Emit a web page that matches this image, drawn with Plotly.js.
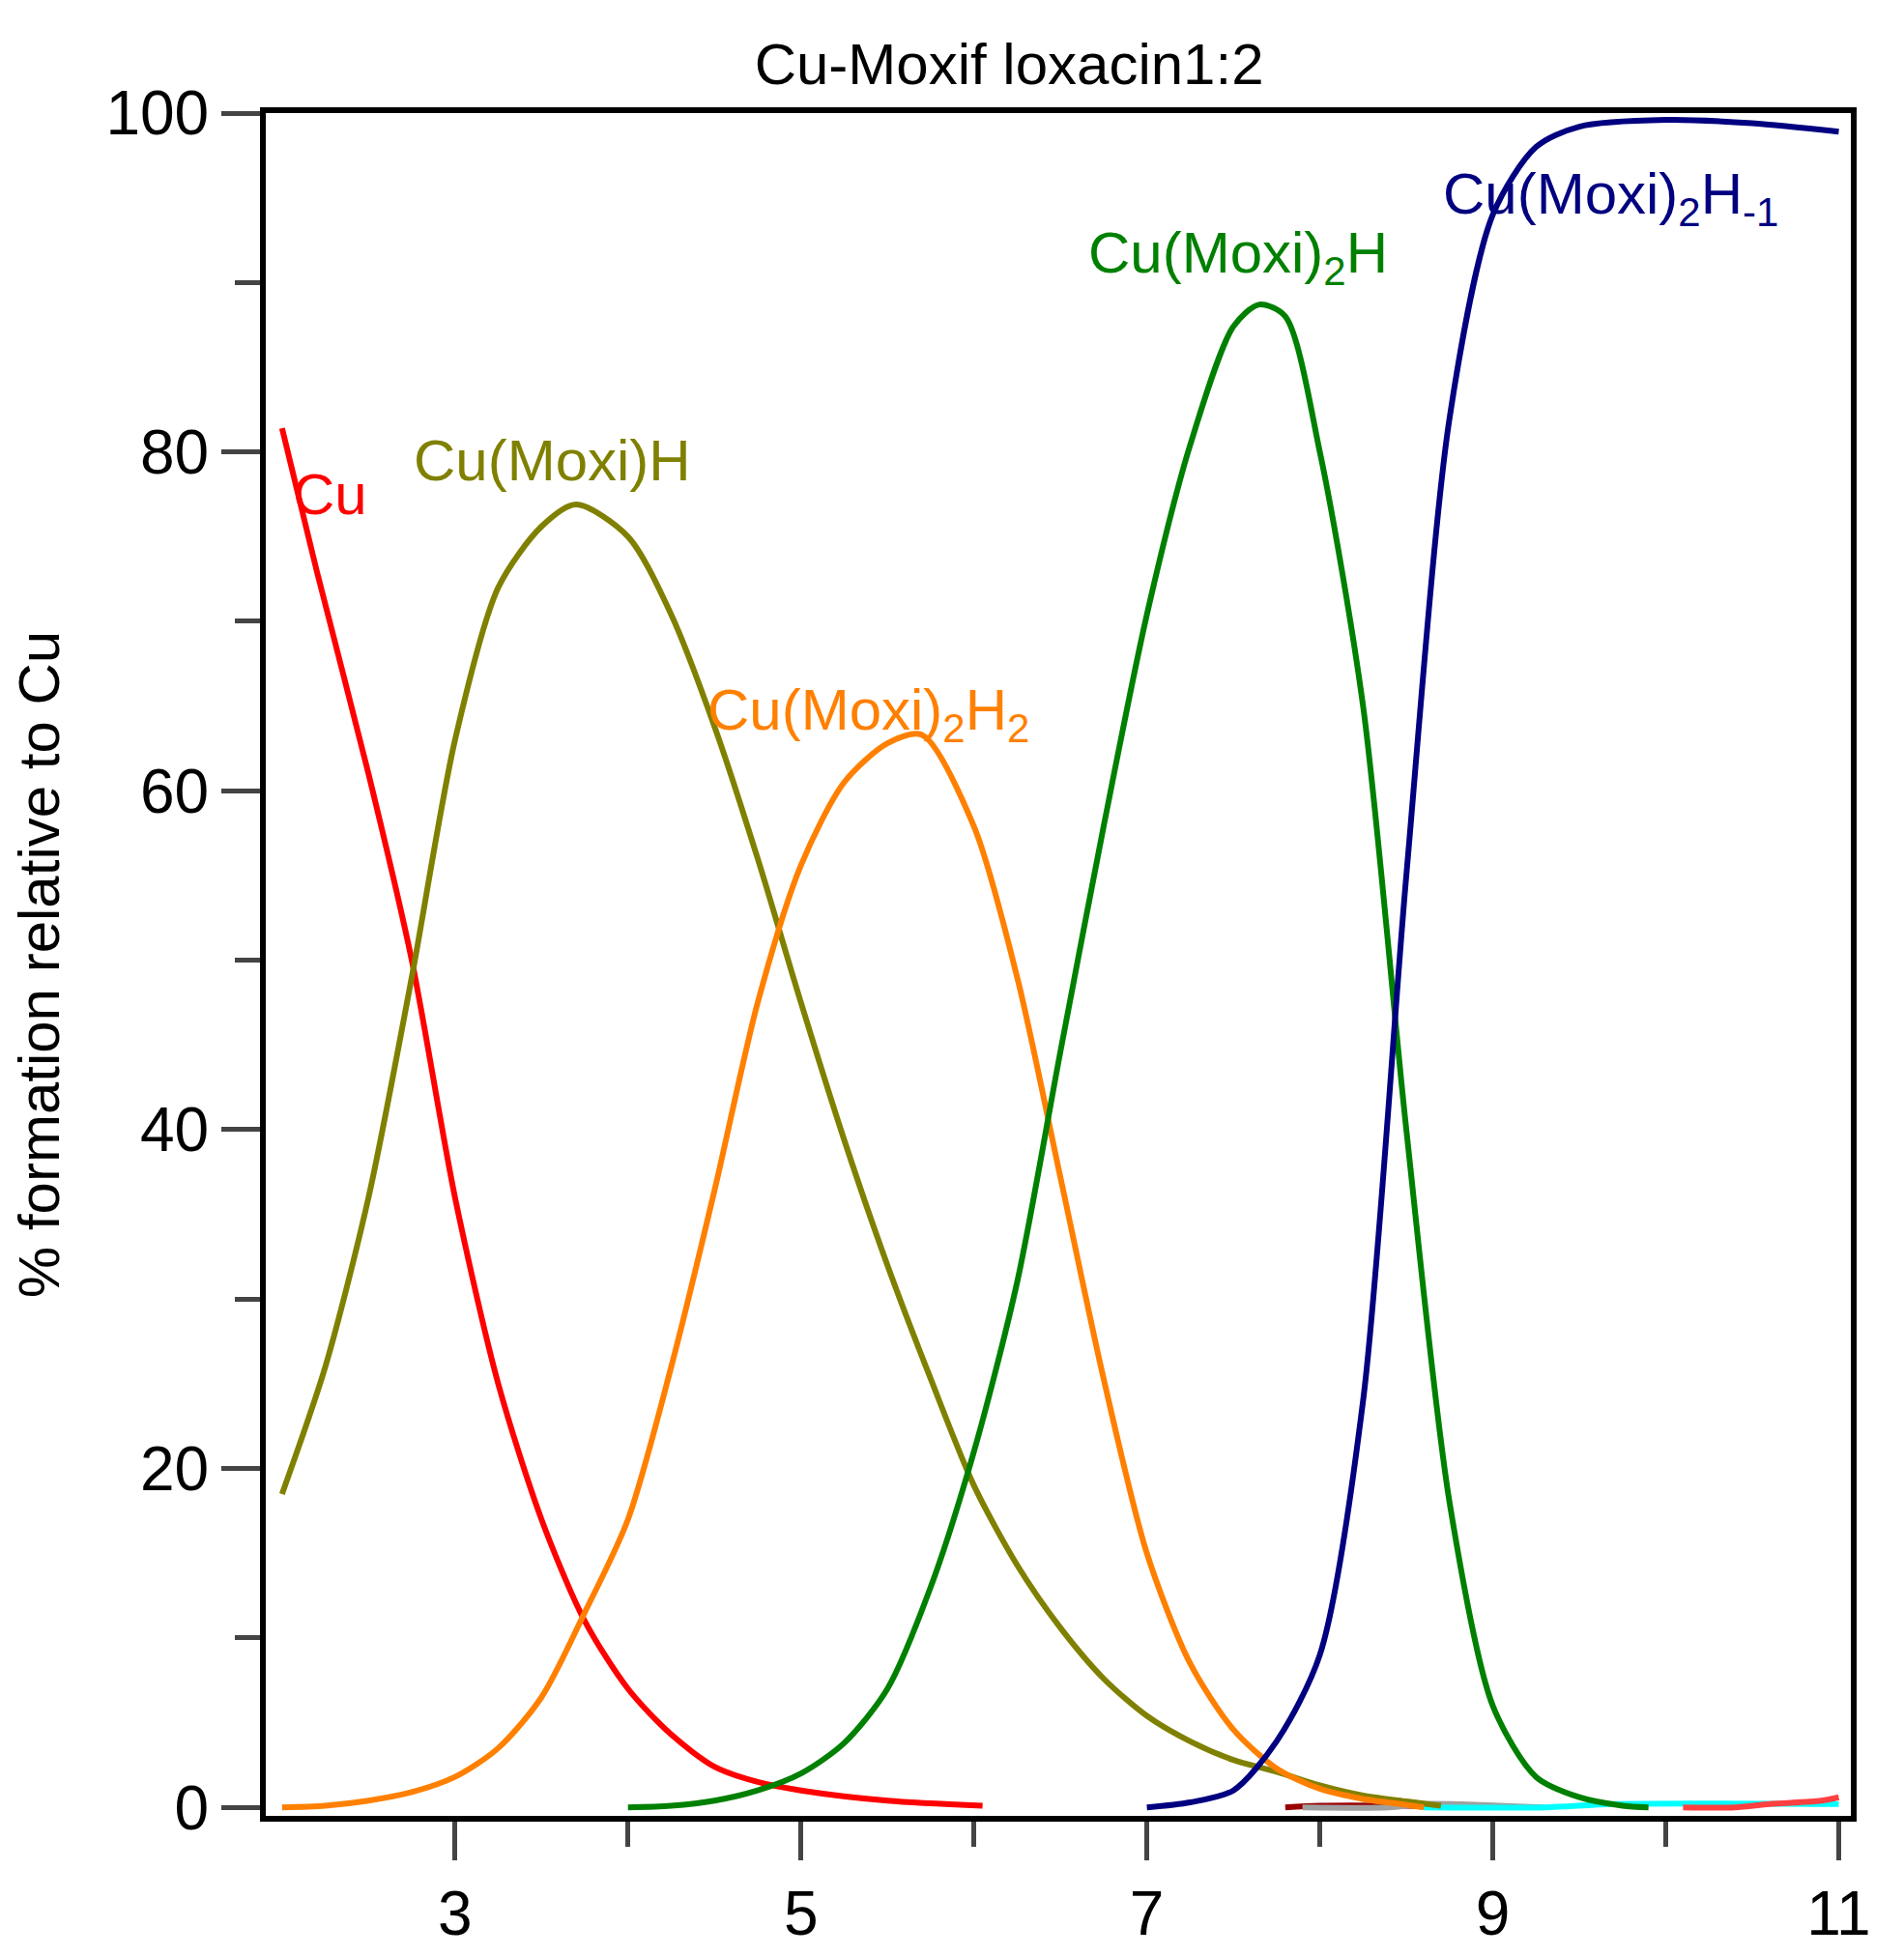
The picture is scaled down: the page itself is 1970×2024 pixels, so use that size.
<!DOCTYPE html>
<html><head><meta charset="utf-8">
<script src="https://cdn.plot.ly/plotly-3.0.1.min.js"></script>
<style>body{margin:0;background:#fff}</style></head>
<body><div id="plot" style="width:1970px;height:2024px"></div>
<script>
var cuX = [2.0, 2.2, 2.5, 2.75, 3.0, 3.25, 3.5, 3.75, 4.0, 4.25, 4.5, 4.75, 5.0, 5.5, 6.05];
var cuY = [81.4, 73, 61, 50, 36, 25, 17, 11, 7, 4.3, 2.4, 1.5, 1.0, 0.4, 0.1];

var mhX = [2.0, 2.25, 2.5, 2.75, 3.0, 3.25, 3.5, 3.7, 4.0, 4.25, 4.5, 4.75, 5.0, 5.25, 5.5, 5.75, 6.0, 6.25, 6.5, 6.75, 7.0, 7.25, 7.5, 7.75, 8.0, 8.25, 8.5, 8.7];
var mhY = [18.5, 26, 36, 49, 63, 72, 75.6, 76.9, 75, 70.4, 63.8, 56, 47.5, 39.4, 32, 25.3, 19, 14.3, 10.6, 7.6, 5.4, 3.9, 2.8, 2.1, 1.3, 0.7, 0.35, 0.1];

var m2h2X = [2.0, 2.25, 2.5, 2.75, 3.0, 3.25, 3.5, 3.75, 4.0, 4.25, 4.5, 4.75, 5.0, 5.25, 5.5, 5.7, 6.0, 6.25, 6.5, 6.75, 7.0, 7.25, 7.5, 7.75, 8.0, 8.25, 8.5, 8.6];
var m2h2Y = [0, 0.1, 0.4, 0.9, 1.8, 3.5, 6.5, 11.5, 17, 26, 36.4, 47.5, 55.6, 60.5, 62.8, 63.3, 57.9, 49, 37.2, 25.3, 15, 8.5, 4.6, 2.3, 1.1, 0.5, 0.15, 0];

var m2hX = [4.0, 4.25, 4.5, 4.75, 5.0, 5.25, 5.5, 5.75, 6.0, 6.25, 6.5, 6.75, 7.0, 7.25, 7.5, 7.65, 7.8, 8.0, 8.25, 8.5, 8.75, 9.0, 9.25, 9.5, 9.75, 9.9];
var m2hY = [0, 0.1, 0.4, 1.0, 2.0, 3.8, 7, 13, 21, 31, 44.6, 57.9, 70.4, 80.4, 87.4, 88.7, 88, 80, 65, 40, 18, 6, 1.8, 0.6, 0.1, 0];

var m2hm1X = [7.0, 7.25, 7.5, 7.75, 8.0, 8.25, 8.5, 8.75, 9.0, 9.25, 9.5, 10.0, 10.5, 11.0];
var m2hm1Y = [0, 0.3, 1.0, 3.9, 9, 24, 55, 82, 94, 98, 99.2, 99.6, 99.4, 98.9];

var dredX = [7.8, 8.0, 8.5, 8.8];
var dredY = [0, 0.1, 0.1, 0.05];
var grayX = [7.9, 8.4, 8.6, 9.3];
var grayY = [0, 0, 0.2, 0];
var cyanX = [8.6, 9.3, 9.7, 11.0];
var cyanY = [0, 0, 0.2, 0.2];
var lredX = [10.1, 10.4, 10.6, 10.9, 11.0];
var lredY = [0, 0, 0.2, 0.4, 0.6];

function tr(x, y, c) {
  return {x: x, y: y, type: 'scatter', mode: 'lines',
    line: {color: c, width: 6, shape: 'spline', smoothing: 0.8}, hoverinfo: 'none'};
}
var data = [
  tr(dredX, dredY, '#990000'),
  tr(grayX, grayY, '#a0a0a0'),
  tr(cyanX, cyanY, '#00ffff'),
  tr(lredX, lredY, '#ff4040'),
  tr(cuX, cuY, '#ff0000'),
  tr(mhX, mhY, '#808000'),
  tr(m2h2X, m2h2Y, '#ff8000'),
  tr(m2hX, m2hY, '#008000'),
  tr(m2hm1X, m2hm1Y, '#000080')
];

var fam = 'Liberation Sans, Arial, sans-serif';
function lab(x, y, t, c) {
  return {x: x, y: y, xref: 'x', yref: 'y', text: t, showarrow: false, xanchor: 'left',
    font: {family: fam, size: 60, color: c}};
}
var layout = {
  width: 1970, height: 2024,
  margin: {l: 275, r: 55, t: 117, b: 145},
  showlegend: false,
  paper_bgcolor: '#fff', plot_bgcolor: '#fff',
  title: {text: 'Cu-Moxif loxacin1:2', font: {family: fam, size: 60, color: '#000'}, x: 0.53, y: 0.978},
  xaxis: {range: [1.906, 11.07], tickvals: [3, 5, 7, 9, 11], ticks: 'outside', ticklen: 40, tickwidth: 5,
    minor: {tickvals: [4, 6, 8, 10], ticks: 'outside', ticklen: 26, tickwidth: 5, showgrid: false},
    showline: true, linewidth: 6, linecolor: '#000', mirror: true, showgrid: false, zeroline: false,
    tickfont: {family: fam, size: 64, color: '#000'}},
  yaxis: {range: [-0.5, 100], tickvals: [0, 20, 40, 60, 80, 100], ticks: 'outside', ticklen: 40, tickwidth: 5,
    minor: {tickvals: [10, 30, 50, 70, 90], ticks: 'outside', ticklen: 26, tickwidth: 5, showgrid: false},
    showline: true, linewidth: 6, linecolor: '#000', mirror: true, showgrid: false, zeroline: false,
    tickfont: {family: fam, size: 64, color: '#000'},
    title: {text: '% formation relative to Cu', font: {family: fam, size: 60, color: '#000'}, standoff: 30}},
  annotations: [
    lab(2.05, 77.5, 'Cu', '#ff0000'),
    lab(2.75, 79.5, 'Cu(Moxi)H', '#808000'),
    lab(4.45, 64.5, 'Cu(Moxi)<sub>2</sub>H<sub>2</sub>', '#ff8000'),
    lab(6.65, 91.5, 'Cu(Moxi)<sub>2</sub>H', '#008000'),
    lab(8.7, 95, 'Cu(Moxi)<sub>2</sub>H<sub>-1</sub>', '#000080')
  ]
};
Plotly.newPlot('plot', data, layout, {staticPlot: true});
</script></body></html>
